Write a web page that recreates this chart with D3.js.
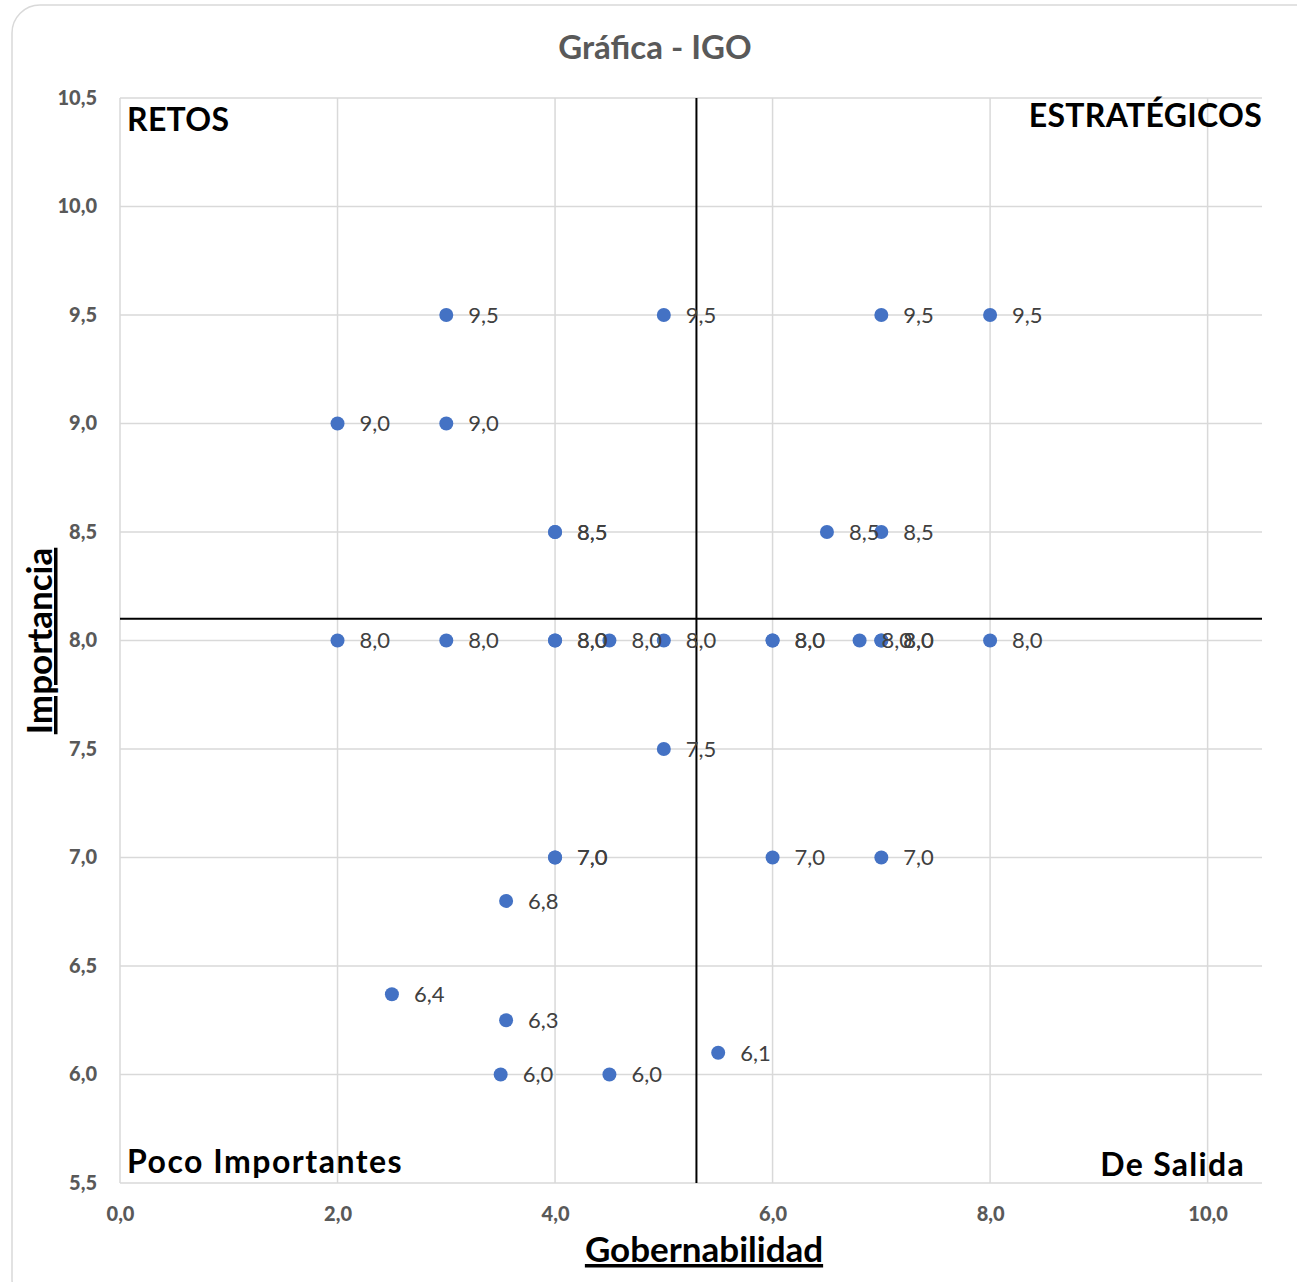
<!DOCTYPE html>
<html>
<head>
<meta charset="utf-8">
<script src="https://cdn.jsdelivr.net/npm/d3@7"></script>
<style>
  html, body { margin: 0; padding: 0; background: #fff; }
  svg { display: block; font-family: Lato, "Open Sans", sans-serif; }
</style>
</head>
<body>
<script>
// Gobernabilidad (x) and Importancia (y) for each evaluated item
const gobernabilidad = [3, 5, 7, 8, 2, 3, 4, 4, 6.5, 7, 2, 3, 4, 4, 4.5, 5, 6, 6, 6.8, 7, 7, 8, 5, 4, 4, 6, 7, 3.55, 2.5, 3.55, 3.5, 4.5, 5.5];
const importancia    = [9.5, 9.5, 9.5, 9.5, 9, 9, 8.5, 8.5, 8.5, 8.5, 8, 8, 8, 8, 8, 8, 8, 8, 8, 8, 8, 8, 7.5, 7, 7, 7, 7, 6.8, 6.37, 6.25, 6, 6, 6.1];

// Quadrant dividers
const corteX = 5.3;
const corteY = 8.1;

const xTicks = [0, 2, 4, 6, 8, 10];
const yTicks = [5.5, 6, 6.5, 7, 7.5, 8, 8.5, 9, 9.5, 10, 10.5];

const W = 1297, H = 1282;
const plotL = 120, plotR = 1262, plotT = 98, plotB = 1183;

const svg = d3.select("body").append("svg").attr("width", W).attr("height", H);

// chart frame
svg.append("rect").attr("x", 12).attr("y", 5).attr("width", W + 20).attr("height", H + 20)
  .attr("rx", 28).attr("fill", "#fff").attr("stroke", "#d9d9d9").attr("stroke-width", 1.5);

const x = d3.scaleLinear().domain([0, 10.5]).range([plotL, plotR]);
const y = d3.scaleLinear().domain([5.5, 10.5]).range([plotB, plotT]);

const fmt = v => d3.format(".1f")(v).replace(".", ",");

// gridlines
const grid = svg.append("g").attr("stroke", "#d9d9d9").attr("stroke-width", 1.5);
grid.selectAll("line.gy").data(yTicks).join("line").attr("class", "gy")
  .attr("x1", plotL).attr("x2", plotR).attr("y1", d => y(d)).attr("y2", d => y(d));
grid.selectAll("line.gx").data(xTicks).join("line").attr("class", "gx")
  .attr("x1", d => x(d)).attr("x2", d => x(d)).attr("y1", plotT).attr("y2", plotB);

// axes tick labels
const xAxis = svg.append("g").attr("transform", `translate(0,${plotB})`)
  .call(d3.axisBottom(x).tickValues(xTicks).tickFormat(fmt).tickSize(0).tickPadding(24));
const yAxis = svg.append("g").attr("transform", `translate(${plotL},0)`)
  .call(d3.axisLeft(y).tickValues(yTicks).tickFormat(fmt).tickSize(0).tickPadding(23));
[xAxis, yAxis].forEach(a => {
  a.select(".domain").remove();
  a.selectAll("text").attr("fill", "#595959").attr("font-size", 20).attr("font-weight", "900")
    .attr("font-family", "Lato, sans-serif");
});

// quadrant divider lines
svg.append("line").attr("x1", x(corteX)).attr("x2", x(corteX)).attr("y1", plotT).attr("y2", plotB)
  .attr("stroke", "#000").attr("stroke-width", 2);
svg.append("line").attr("x1", plotL).attr("x2", plotR).attr("y1", y(corteY)).attr("y2", y(corteY))
  .attr("stroke", "#000").attr("stroke-width", 2);

// points
const pts = gobernabilidad.map((g, i) => ({ g, v: importancia[i] }));
svg.append("g").selectAll("circle").data(pts).join("circle")
  .attr("cx", d => x(d.g)).attr("cy", d => y(d.v)).attr("r", 7).attr("fill", "#4472C4");

// data labels
svg.append("g").selectAll("text").data(pts).join("text")
  .attr("x", d => x(d.g) + 22).attr("y", d => y(d.v)).attr("dy", "0.36em")
  .attr("font-size", 22).attr("fill", "#404040").text(d => fmt(d.v));

// title
svg.append("text").attr("x", 655).attr("y", 59).attr("text-anchor", "middle")
  .attr("font-size", 33).attr("font-weight", "bold").attr("fill", "#595959").text("Gráfica - IGO");

// quadrant names
const quad = [
  { t: "RETOS", x: 127, y: 131, a: "start", ls: 0.3 },
  { t: "ESTRATÉGICOS", x: 1262, y: 127, a: "end", ls: 0.3 },
  { t: "Poco Importantes", x: 127, y: 1173, a: "start", ls: 1.5 },
  { t: "De Salida", x: 1245, y: 1176, a: "end", ls: 1.3 }
];
svg.append("g").selectAll("text").data(quad).join("text")
  .attr("x", d => d.x).attr("y", d => d.y).attr("text-anchor", d => d.a)
  .attr("letter-spacing", d => d.ls)
  .attr("font-size", 32).attr("font-weight", "bold").attr("fill", "#000").text(d => d.t);

// axis titles
svg.append("text").attr("x", 704).attr("y", 1262).attr("text-anchor", "middle")
  .attr("font-size", 35).attr("font-weight", "bold").attr("text-decoration", "underline")
  .attr("fill", "#000").text("Gobernabilidad");
svg.append("text").attr("transform", "translate(52,641) rotate(-90)").attr("text-anchor", "middle")
  .attr("font-size", 35).attr("font-weight", "bold").attr("text-decoration", "underline")
  .attr("fill", "#000").text("Importancia");
</script>
</body>
</html>
